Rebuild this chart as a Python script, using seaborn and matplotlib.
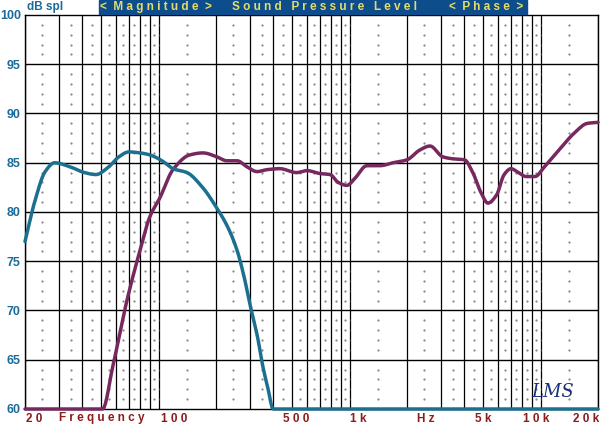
import numpy as np
import pandas as pd
import matplotlib
matplotlib.use("Agg")
import matplotlib.pyplot as plt
import seaborn as sns

# woofer (teal) response
woofer_freq = [20, 22.6, 25.5, 28.6, 34.3, 41, 47, 55, 62, 70, 80, 90, 98, 108, 119,
               141, 170, 202, 230, 258, 280, 303, 330, 352, 375, 398, 1000, 20000]
woofer_db = [77.0, 81.2, 84.1, 85.0, 84.6, 84.0, 83.8, 84.6, 85.6, 86.1, 86.0, 85.8, 85.5,
             85.0, 84.4, 84.0, 82.5, 80.4, 78.5, 76.1, 73.5, 70.4, 67.3, 64.3, 62.0, 60.0,
             60.0, 60.0]

# tweeter / full range (purple) response
tweeter_freq = [20, 51, 57.6, 68.5, 80, 90, 102, 119, 146, 171, 202, 228, 258, 290, 328,
                370, 432, 529, 600, 702, 792, 873, 970, 1065, 1232, 1443, 1690, 2000,
                2336, 2640, 3080, 3470, 4000, 4420, 4900, 5300, 5880, 6450, 7000, 7670,
                8400, 9360, 10500, 12760, 15000, 17600, 20000]
tweeter_db = [60.0, 60.0, 64.3, 71.1, 76.1, 79.5, 81.5, 84.3, 85.8, 86.0, 85.6, 85.2,
              85.2, 84.6, 84.1, 84.3, 84.4, 84.0, 84.2, 83.9, 83.8, 83.0, 82.7, 83.4,
              84.7, 84.7, 85.0, 85.3, 86.3, 86.7, 85.6, 85.4, 85.3, 84.0, 81.9, 80.9,
              81.7, 83.8, 84.4, 84.0, 83.6, 83.6, 84.6, 86.5, 88.0, 89.0, 89.1]

y_ticks = [60, 65, 70, 75, 80, 85, 90, 95, 100]
x_labels = ["2 0", "F r e q u e n c y", "1 0 0", "5 0 0", "1 k", "H z", "5 k", "1 0 k", "2 0 k"]
x_label_px = [34, 102, 174, 296, 358, 426, 483, 536, 586]

TEAL = "#1c6f8e"
PURPLE = "#76285f"
LABEL_BLUE = "#1a6a9a"
LABEL_RED = "#8a1c1c"


def pchip(x, y, n=400):
    # monotone cubic through the read points, in log-frequency
    lx = np.log10(np.asarray(x, float))
    y = np.asarray(y, float)
    h = np.diff(lx)
    d = np.diff(y) / h
    m = np.zeros_like(y)
    m[0], m[-1] = d[0], d[-1]
    for i in range(1, len(y) - 1):
        if d[i - 1] * d[i] > 0:
            w1 = 2 * h[i] + h[i - 1]
            w2 = h[i] + 2 * h[i - 1]
            m[i] = (w1 + w2) / (w1 / d[i - 1] + w2 / d[i])
    xs = np.linspace(lx[0], lx[-1], n)
    idx = np.clip(np.searchsorted(lx, xs) - 1, 0, len(h) - 1)
    t = (xs - lx[idx]) / h[idx]
    h00 = 2 * t**3 - 3 * t**2 + 1
    h10 = t**3 - 2 * t**2 + t
    h01 = -2 * t**3 + 3 * t**2
    h11 = t**3 - t**2
    ys = h00 * y[idx] + h10 * h[idx] * m[idx] + h01 * y[idx + 1] + h11 * h[idx] * m[idx + 1]
    return 10 ** xs, ys


sns.set_style("white")
plt.rcParams["font.family"] = ["Liberation Sans", "DejaVu Sans"]

fig = plt.figure(figsize=(6, 4.25), dpi=100)
ax = fig.add_axes([25 / 600, 1 - 409 / 425, 573 / 600, 394 / 425])
ax.set_xscale("log")
ax.set_xlim(20, 20000)
ax.set_ylim(60, 100)

# grid: verticals at 20..90, 100..900, 1k..9k, 10k, 20k
grid_x = [m * 10 ** d for d in (1, 2, 3) for m in range(1, 10) if m * 10 ** d >= 20]
grid_x = grid_x + [10000, 20000]
for g in grid_x:
    ax.axvline(g, color="black", lw=0.9, zorder=1)
for y in y_ticks[1:-1]:
    ax.axhline(y, color="black", lw=1.0, zorder=1)

# dotted minor columns halfway between the verticals
mids = [np.sqrt(a * b) for a, b in zip(grid_x[:-1], grid_x[1:])]
dots_y = [v for v in range(61, 100) if v % 5 != 0]
for m in mids:
    ax.plot([m] * len(dots_y), dots_y, ls="none", marker="s", ms=0.6,
            color="#8a8a8a", zorder=1)
# small dB ticks on the decade lines
for d in (20, 100, 1000, 10000):
    ax.plot([d] * len(dots_y), dots_y, ls="none", marker="|", ms=2, mew=0.7,
            color="#333333", zorder=1)

wf, wd = pchip(woofer_freq, woofer_db)
tf, td = pchip(tweeter_freq, tweeter_db)
curves = pd.concat([
    pd.DataFrame({"freq": tf, "db": np.maximum(td, 60), "driver": "tweeter"}),
    pd.DataFrame({"freq": wf, "db": np.maximum(wd, 60), "driver": "woofer"}),
])
sns.lineplot(data=curves, x="freq", y="db", hue="driver",
             palette={"woofer": TEAL, "tweeter": PURPLE}, hue_order=["tweeter", "woofer"],
             lw=2.5, legend=False, ax=ax, zorder=3, sort=False,
             solid_joinstyle="round", solid_capstyle="round", clip_on=False)

for s in ax.spines.values():
    s.set_color("black")
    s.set_linewidth(1.0)

ax.set_xticks([])
ax.set_yticks(y_ticks)
ax.set_yticklabels([str(v) for v in y_ticks], color=LABEL_BLUE, fontsize=9, fontweight="bold")
ax.tick_params(axis="y", length=0, pad=3)
ax.set_xlabel("")
ax.set_ylabel("")

for lab, px in zip(x_labels, x_label_px):
    fig.text(px / 600, 1 - 418.5 / 425, lab, ha="center", va="center",
             color=LABEL_RED, fontsize=8.5, fontweight="bold")

# header bar
fig.patches.append(plt.Rectangle((99 / 600, 1 - 14 / 425), 428 / 600, 14 / 425,
                                 transform=fig.transFigure, color="#0d4d8c", zorder=0))
head_y = 1 - 7 / 425
fig.text(156 / 600, head_y, "<  M a g n i t u d e  >", color="#e4dc6a", fontsize=8.5,
         fontweight="bold", ha="center", va="center")
fig.text(324 / 600, head_y, "S o u n d   P r e s s u r e   L e v e l", color="#e4dc6a",
         fontsize=8.5, fontweight="bold", ha="center", va="center")
fig.text(486 / 600, head_y, "<  P h a s e  >", color="#e4dc6a", fontsize=8.5,
         fontweight="bold", ha="center", va="center")
fig.text(27 / 600, head_y, "dB spl", color=LABEL_BLUE, fontsize=8.5, fontweight="bold",
         ha="left", va="center")

fig.text(553 / 600, 1 - 392 / 425, "LMS", color="#1a2f7a", fontsize=13, style="italic",
         ha="center", va="center", family="DejaVu Serif")

fig.savefig("out.png", dpi=100)
